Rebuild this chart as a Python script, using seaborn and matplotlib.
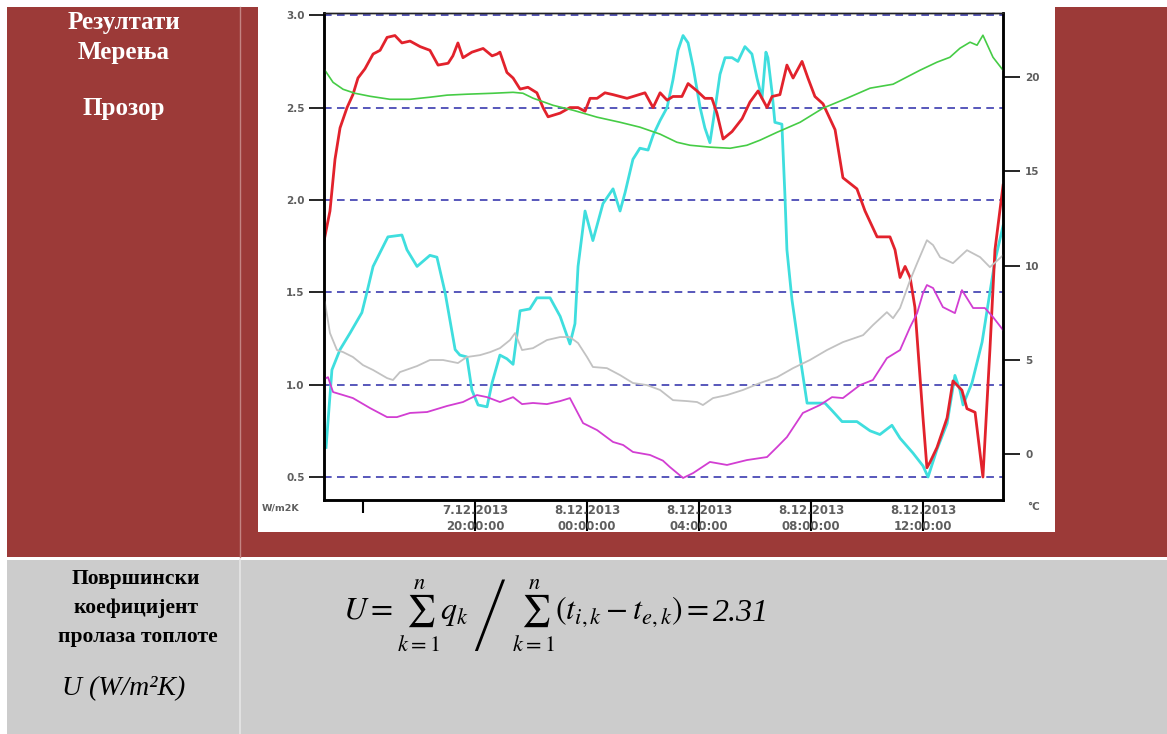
import matplotlib
matplotlib.use("Agg")
import matplotlib.pyplot as plt
from matplotlib.patches import Rectangle
from matplotlib.lines import Line2D
import seaborn as sns

W, H = 1167, 734

# Time is given in hours counted from 7.12.2013 00:00
red_hours = [14.61, 14.82, 15.00, 15.18, 15.43, 15.64, 15.82, 16.07, 16.36, 16.61,
             16.86, 17.14, 17.39, 17.68, 18.04, 18.39, 18.68, 19.04, 19.21, 19.39,
             19.57, 19.89, 20.29, 20.61, 20.79, 20.89, 21.14, 21.36, 21.61, 21.89,
             22.21, 22.43, 22.61, 23.04, 23.39, 23.68, 23.93, 24.11, 24.36, 24.64,
             24.93, 25.43, 26.07, 26.36, 26.61, 26.86, 27.07, 27.39, 27.61, 27.93,
             28.21, 28.46, 28.64, 28.86, 29.18, 29.54, 29.82, 30.11, 30.43, 30.61,
             30.89, 31.14, 31.36, 31.68, 31.89, 32.14, 32.43, 32.86, 33.14, 33.64,
             33.93, 34.36, 34.82, 35.00, 35.18, 35.36, 35.54, 35.71, 36.00, 36.14,
             36.25, 36.50, 36.86, 37.07, 37.39, 37.57, 37.86, 38.14, 38.39, 38.57,
             38.86]
red_vals = [1.78, 1.94, 2.22, 2.39, 2.50, 2.57, 2.66, 2.71, 2.79, 2.81,
            2.88, 2.89, 2.85, 2.86, 2.83, 2.81, 2.73, 2.74, 2.78, 2.85,
            2.77, 2.80, 2.82, 2.78, 2.79, 2.80, 2.69, 2.66, 2.60, 2.61,
            2.58, 2.50, 2.45, 2.47, 2.50, 2.50, 2.48, 2.55, 2.55, 2.58,
            2.57, 2.55, 2.58, 2.50, 2.58, 2.54, 2.56, 2.56, 2.63, 2.59,
            2.55, 2.55, 2.47, 2.33, 2.37, 2.44, 2.53, 2.59, 2.50, 2.56,
            2.57, 2.73, 2.66, 2.75, 2.66, 2.56, 2.52, 2.38, 2.12, 2.06,
            1.94, 1.80, 1.80, 1.73, 1.58, 1.64, 1.58, 1.42, 0.82, 0.55,
            0.58, 0.66, 0.82, 1.02, 0.97, 0.87, 0.85, 0.50, 1.19, 1.73,
            2.08]

cyan_hours = [14.68, 14.89, 15.18, 15.54, 15.96, 16.14, 16.36, 16.89, 17.39, 17.57,
              17.93, 18.39, 18.64, 18.93, 19.29, 19.46, 19.71, 19.89, 20.11, 20.43,
              20.61, 20.89, 21.14, 21.36, 21.61, 21.96, 22.21, 22.68, 23.04, 23.39,
              23.57, 23.68, 23.93, 24.21, 24.57, 24.93, 25.18, 25.36, 25.64, 25.89,
              26.18, 26.36, 26.61, 26.86, 27.07, 27.25, 27.43, 27.61, 27.79, 28.04,
              28.21, 28.39, 28.57, 28.75, 28.93, 29.18, 29.39, 29.64, 29.89, 30.07,
              30.25, 30.39, 30.46, 30.61, 30.71, 30.96, 31.07, 31.14, 31.32, 31.61,
              31.86, 32.21, 32.50, 32.75, 33.11, 33.64, 34.11, 34.46, 34.89, 35.18,
              35.64, 36.00, 36.18, 36.50, 36.86, 37.14, 37.32, 37.43, 37.75, 38.11,
              38.39, 38.57, 38.86]
cyan_vals = [0.66, 1.08, 1.19, 1.28, 1.39, 1.50, 1.64, 1.80, 1.81, 1.73,
             1.64, 1.70, 1.69, 1.50, 1.19, 1.16, 1.15, 0.97, 0.89, 0.88,
             1.01, 1.16, 1.14, 1.11, 1.40, 1.41, 1.47, 1.47, 1.37, 1.22,
             1.33, 1.64, 1.94, 1.78, 1.98, 2.06, 1.94, 2.04, 2.22, 2.28,
             2.27, 2.35, 2.43, 2.50, 2.65, 2.81, 2.89, 2.85, 2.72, 2.50,
             2.39, 2.31, 2.49, 2.68, 2.77, 2.77, 2.75, 2.83, 2.79, 2.66,
             2.55, 2.80, 2.77, 2.58, 2.42, 2.41, 2.02, 1.73, 1.46, 1.15,
             0.90, 0.90, 0.90, 0.86, 0.80, 0.80, 0.75, 0.73, 0.78, 0.71,
             0.63, 0.56, 0.50, 0.65, 0.79, 1.05, 0.97, 0.89, 1.01, 1.23,
             1.50, 1.67, 1.86]

green_hours = [14.64, 14.93, 15.29, 15.71, 16.25, 16.96, 17.68, 18.39, 19.00, 19.71,
               20.64, 21.36, 21.71, 22.07, 22.79, 23.50, 24.36, 25.18, 25.89, 26.61,
               27.21, 27.68, 28.39, 29.11, 29.71, 30.18, 30.79, 31.61, 32.43, 33.29,
               34.11, 34.93, 35.89, 36.50, 36.96, 37.32, 37.68, 37.93, 38.14, 38.50,
               38.86]
green_vals = [20.37, 19.73, 19.36, 19.15, 18.99, 18.83, 18.83, 18.94, 19.05, 19.10,
              19.15, 19.20, 19.15, 18.89, 18.51, 18.25, 17.88, 17.61, 17.35, 16.98,
              16.55, 16.39, 16.29, 16.23, 16.39, 16.66, 17.08, 17.61, 18.36, 18.89,
              19.42, 19.63, 20.37, 20.80, 21.06, 21.54, 21.86, 21.70, 22.23, 21.06,
              20.37]

grey_hours = [14.64, 14.82, 15.07, 15.29, 15.64, 16.00, 16.36, 16.86, 17.07, 17.32,
              17.93, 18.39, 18.86, 19.39, 19.71, 20.18, 20.54, 20.89, 21.25, 21.43,
              21.68, 22.07, 22.57, 23.04, 23.39, 23.68, 24.00, 24.21, 24.71, 25.18,
              25.64, 26.14, 26.61, 27.07, 27.57, 27.93, 28.14, 28.50, 29.00, 29.57,
              30.18, 30.79, 31.36, 31.96, 32.57, 33.14, 33.86, 34.21, 34.71, 34.93,
              35.18, 35.54, 35.79, 36.14, 36.36, 36.61, 37.07, 37.57, 38.04, 38.39,
              38.86]
grey_vals = [8.06, 6.42, 5.52, 5.41, 5.15, 4.72, 4.46, 4.03, 3.93, 4.35,
             4.67, 4.99, 4.99, 4.83, 5.15, 5.25, 5.41, 5.62, 6.05, 6.42,
             5.52, 5.62, 6.05, 6.21, 6.21, 5.89, 5.15, 4.62, 4.56, 4.19,
             3.77, 3.66, 3.40, 2.86, 2.81, 2.76, 2.60, 2.97, 3.13, 3.40,
             3.77, 4.08, 4.56, 4.99, 5.52, 5.94, 6.31, 6.84, 7.53, 7.21,
             7.75, 9.23, 10.13, 11.35, 11.09, 10.45, 10.13, 10.82, 10.45, 9.92,
             10.55]

magenta_hours = [14.68, 14.75, 14.93, 15.29, 15.64, 16.25, 16.86, 17.21, 17.68, 18.29,
                 19.00, 19.57, 20.07, 20.43, 20.89, 21.36, 21.68, 22.07, 22.57, 23.04,
                 23.39, 23.86, 24.36, 24.93, 25.29, 25.64, 26.25, 26.71, 26.96, 27.43,
                 27.79, 28.39, 29.00, 29.71, 30.43, 30.79, 31.14, 31.71, 32.32, 32.75,
                 33.14, 33.75, 34.21, 34.71, 35.18, 35.54, 35.79, 36.00, 36.14, 36.36,
                 36.71, 37.14, 37.39, 37.79, 38.21, 38.50, 38.86]
magenta_vals = [4.03, 4.08, 3.29, 3.13, 2.97, 2.44, 1.96, 1.96, 2.18, 2.23,
                2.55, 2.76, 3.13, 3.02, 2.76, 3.02, 2.65, 2.71, 2.65, 2.81,
                2.97, 1.64, 1.27, 0.64, 0.48, 0.11, -0.05, -0.35, -0.69, -1.27,
                -1.01, -0.42, -0.58, -0.32, -0.16, 0.37, 0.90, 2.18, 2.60, 3.02,
                2.97, 3.66, 3.93, 5.09, 5.52, 6.74, 7.48, 8.54, 8.97, 8.81,
                7.80, 7.48, 8.70, 7.75, 7.75, 7.27, 6.58]

x_major = [20, 24, 28, 32, 36]
x_major_labels = ["7.12.2013\n20:00:00", "8.12.2013\n00:00:00", "8.12.2013\n04:00:00",
                  "8.12.2013\n08:00:00", "8.12.2013\n12:00:00"]
x_minor = [16]
left_ticks = [0.5, 1.0, 1.5, 2.0, 2.5, 3.0]
right_ticks = [0, 5, 10, 15, 20]
u_result = "2.31"

RED_BG = "#9c3a38"
GREY_BG = "#cccccc"
TICK_GREY = "#5e5e5e"

plt.rcParams["mathtext.fontset"] = "stix"

fig = plt.figure(figsize=(W / 100, H / 100), dpi=100)
fig.patch.set_facecolor("white")


def fx(x):
    return x / W


def fy(y):
    return 1 - y / H


def box(x0, y0, x1, y1, color):
    fig.patches.append(Rectangle((fx(x0), fy(y1)), (x1 - x0) / W, (y1 - y0) / H,
                                 transform=fig.transFigure, facecolor=color,
                                 edgecolor="none", zorder=-10))


def vline(x, y0, y1, color, lw=1.0):
    fig.lines.append(Line2D([fx(x), fx(x)], [fy(y0), fy(y1)], transform=fig.transFigure,
                            color=color, lw=lw, zorder=-9))


# table cells
box(7, 7, W, 557, RED_BG)
box(258, 7, 1055, 532, "white")
box(7, 560, W, H, GREY_BG)
vline(240, 7, 557, "#c48482", 1.0)
vline(240, 560, H, "#e6e6e6", 1.2)

# chart
ax = fig.add_axes([fx(324), fy(500), 679 / W, 487 / H])
ax2 = ax.twinx()

sns.lineplot(x=green_hours, y=green_vals, ax=ax2, color="#46cc46", lw=1.2, estimator=None)
sns.lineplot(x=grey_hours, y=grey_vals, ax=ax2, color="#c2c2c2", lw=1.3, estimator=None)
sns.lineplot(x=magenta_hours, y=magenta_vals, ax=ax2, color="#d23ed2", lw=1.3, estimator=None)
sns.lineplot(x=cyan_hours, y=cyan_vals, ax=ax, color="#3fdede", lw=2.0, estimator=None)
sns.lineplot(x=red_hours, y=red_vals, ax=ax, color="#e2222c", lw=2.0, estimator=None)

ax.set_xlim(14.607, 38.857)
ax.set_ylim(0.3755, 3.012)
ax2.set_ylim(-2.44, 23.41)

for v in left_ticks:
    ax.axhline(v, color="#2a2aa8", lw=1.1, ls=(0, (5, 3.5)), zorder=0.5)

tick_font = dict(fontweight="bold", family="DejaVu Sans", color=TICK_GREY)

ax.set_xticks(x_major)
ax.set_xticklabels(x_major_labels, fontsize=8.5, linespacing=1.3, **tick_font)
ax.set_xticks(x_minor, minor=True)
ax.tick_params(axis="x", which="major", length=22, width=1.5, direction="out",
               pad=-19, color="black")
ax.tick_params(axis="x", which="minor", length=9, width=1.5, direction="out", color="black")

ax.set_yticks(left_ticks)
ax.set_yticklabels([f"{v:.1f}" for v in left_ticks], fontsize=7.5, **tick_font)
ax.tick_params(axis="y", length=11, width=1.2, pad=3, color="black")

ax2.set_yticks(right_ticks)
ax2.set_yticklabels([str(v) for v in right_ticks], fontsize=7.5, **tick_font)
ax2.tick_params(axis="y", length=12, width=1.2, pad=4, color="black")

for a in (ax, ax2):
    a.set_xlabel("")
    a.set_ylabel("")
    for side in ("left", "right", "bottom"):
        a.spines[side].set_linewidth(1.8)
        a.spines[side].set_color("black")
    a.spines["top"].set_linewidth(1.0)
    a.spines["top"].set_color("#222222")

fig.text(fx(262), fy(508), "W/m2K", fontsize=6.8, va="center", ha="left", **tick_font)
fig.text(fx(1027), fy(507), "°C", fontsize=7.5, va="center", ha="left", **tick_font)

# left column headings
serif_bold = dict(family="Liberation Serif", fontweight="bold", ha="center", va="center")
fig.text(fx(124), fy(22), "Резултати", fontsize=18, color="white", **serif_bold)
fig.text(fx(124), fy(53), "Мерења", fontsize=18, color="white", **serif_bold)
fig.text(fx(124), fy(108), "Прозор", fontsize=18, color="white", **serif_bold)

fig.text(fx(136), fy(579), "Површински", fontsize=15.5, color="black", **serif_bold)
fig.text(fx(136), fy(608), "коефицијент", fontsize=15.5, color="black", **serif_bold)
fig.text(fx(138), fy(637), "пролаза топлоте", fontsize=15.5, color="black", **serif_bold)
fig.text(fx(124), fy(689), "U (W/m²K)", fontsize=20, color="black", family="Liberation Serif",
         style="italic", ha="center", va="center")

# heat transfer coefficient formula; the numeric result is set in italic serif
formula = (r"$U = \sum_{k=1}^{n} q_k \;\left/\; \sum_{k=1}^{n}"
           r"\left(t_{i,k} - t_{e,k}\right)\right. =$")
f_text = fig.text(fx(343), fy(621), formula, fontsize=23, color="black",
                  ha="left", va="baseline")
renderer = fig.canvas.get_renderer()
bb = f_text.get_window_extent(renderer)
fig.text(bb.x1 / W + 4 / W, fy(621), u_result, fontsize=23, color="black",
         family="Liberation Serif", style="italic", ha="left", va="baseline")

fig.savefig("out.png", dpi=100)
